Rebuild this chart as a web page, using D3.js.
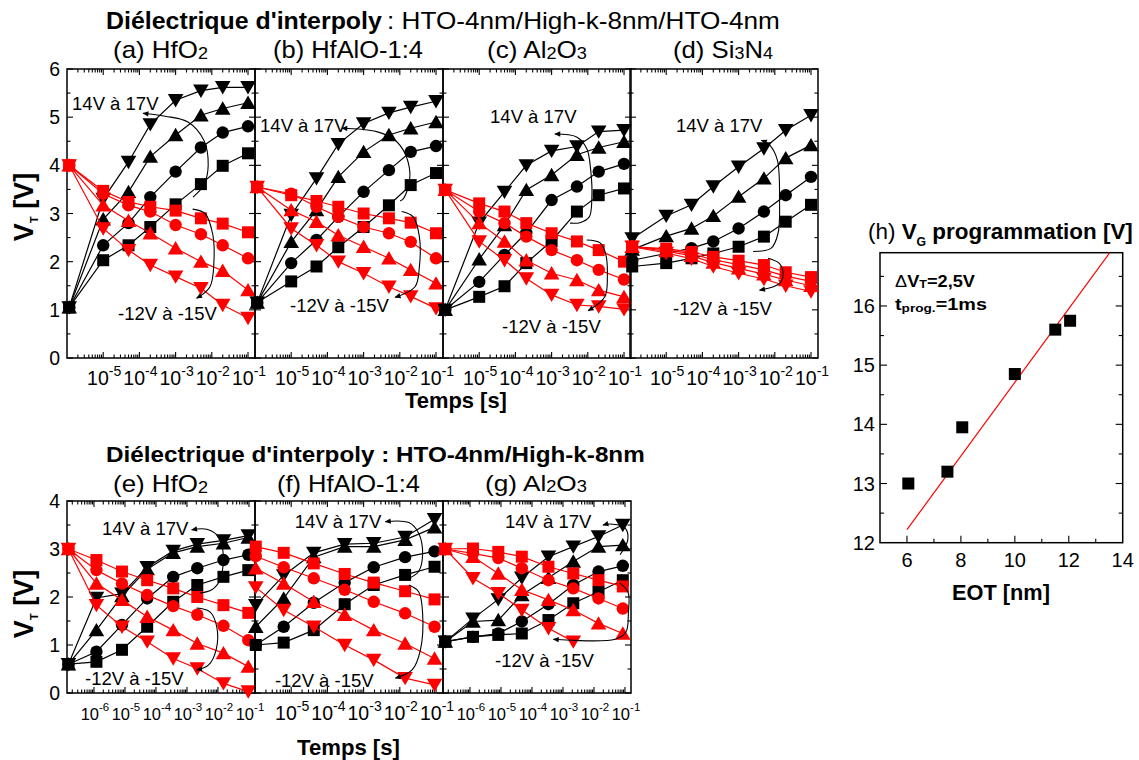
<!DOCTYPE html>
<html><head><meta charset="utf-8">
<script src="https://cdn.jsdelivr.net/npm/d3@7"></script>
<style>
body{margin:0;background:#fff}
svg{display:block}
text{font-family:"Liberation Sans",Arial,sans-serif;fill:#000}
</style>
</head><body>
<svg id="chart" width="1139" height="760"></svg>
<script>
// ---------------- DATA ----------------
const timeTop = [1.15e-6, 1e-5, 5e-5, 2e-4, 1e-3, 5e-3, 2e-2, 1e-1];
const timeE   = [1.5e-7, 1.2e-6, 8e-6, 5.2e-5, 3.6e-4, 2.15e-3, 1.5e-2, 9.5e-2];
const timeF   = [1.05e-6, 6.2e-6, 4.2e-5, 3.0e-4, 1.9e-3, 1.4e-2, 9.1e-2];
const timeG   = [1.6e-7, 1.25e-6, 8.2e-6, 4.7e-5, 3.4e-4, 2.15e-3, 1.4e-2, 8.5e-2];

const progLabels  = ["14V","15V","16V","17V"];
const eraseLabels = ["-12V","-13V","-14V","-15V"];
const shapes = ["square","circle","up","down"];

// (a) HfO2 – HTO/High-k/HTO
const a_p14=[1.05,2.03,2.34,2.72,3.19,3.61,3.99,4.25];
const a_p15=[1.05,2.34,2.80,3.34,3.87,4.37,4.68,4.81];
const a_p16=[1.05,2.88,3.45,4.18,4.63,5.04,5.18,5.30];
const a_p17=[1.05,3.30,4.07,4.85,5.35,5.55,5.62,5.62];
const a_e12=[4.0,3.47,3.24,3.14,3.06,2.90,2.79,2.61];
const a_e13=[4.0,3.41,3.17,3.04,2.76,2.57,2.34,2.07];
const a_e14=[4.0,3.17,2.85,2.59,2.28,2.00,1.81,1.41];
const a_e15=[4.0,2.69,2.24,1.93,1.69,1.45,1.10,0.83];
// (b) HfAlO-1:4
const b_p14=[1.15,1.59,1.90,2.30,2.72,3.17,3.59,3.84];
const b_p15=[1.15,1.97,2.45,2.93,3.45,3.90,4.28,4.40];
const b_p16=[1.15,2.41,3.07,3.76,4.28,4.63,4.77,4.90];
const b_p17=[1.15,2.97,3.73,4.44,4.87,5.09,5.21,5.33];
const b_e12=[3.55,3.38,3.26,3.14,3.00,2.90,2.81,2.59];
const b_e13=[3.55,3.41,3.14,2.93,2.72,2.59,2.41,2.07];
const b_e14=[3.55,3.07,2.83,2.55,2.31,2.07,1.83,1.55];
const b_e15=[3.55,2.69,2.34,2.00,1.76,1.48,1.28,1.03];
// (c) Al2O3
const c_p14=[1.0,1.27,1.49,1.97,2.43,3.04,3.38,3.52];
const c_p15=[1.0,1.58,2.14,2.60,3.28,3.56,3.87,4.03];
const c_p16=[1.0,2.05,2.76,3.49,3.80,4.22,4.37,4.49];
const c_p17=[1.0,2.81,3.45,4.00,4.30,4.39,4.70,4.73];
const c_e12=[3.49,3.21,3.04,2.80,2.59,2.42,2.24,2.00];
const c_e13=[3.49,3.04,2.80,2.52,2.24,2.03,1.83,1.63];
const c_e14=[3.49,2.80,2.42,2.03,1.76,1.62,1.41,1.27];
const c_e15=[3.49,2.42,2.03,1.65,1.31,1.10,1.07,1.01];
// (d) Si3N4
const d_p14=[1.90,1.97,2.07,2.17,2.31,2.52,2.83,3.18];
const d_p15=[2.03,2.17,2.28,2.42,2.69,3.04,3.38,3.76];
const d_p16=[2.25,2.53,2.69,2.95,3.35,3.73,4.15,4.42];
const d_p17=[2.48,2.95,3.18,3.56,3.97,4.35,4.73,5.04];
const d_e12=[2.31,2.27,2.20,2.10,2.02,1.93,1.78,1.68];
const d_e13=[2.31,2.25,2.16,2.04,1.94,1.83,1.70,1.59];
const d_e14=[2.31,2.22,2.12,1.98,1.86,1.74,1.62,1.50];
const d_e15=[2.31,2.18,2.06,1.90,1.76,1.64,1.50,1.38];
// (e) HfO2 – HTO/High-k
const e_p14=[0.60,0.65,0.90,1.38,1.90,2.25,2.42,2.56];
const e_p15=[0.60,0.86,1.42,1.97,2.42,2.60,2.77,2.88];
const e_p16=[0.60,1.31,2.02,2.58,2.92,3.05,3.12,3.24];
const e_p17=[0.60,1.98,2.07,2.62,2.96,3.10,3.18,3.28];
const e_e12=[3.0,2.77,2.53,2.35,2.18,2.00,1.83,1.67];
const e_e13=[3.0,2.56,2.28,2.04,1.81,1.63,1.40,1.10];
const e_e14=[3.0,2.28,1.94,1.59,1.31,1.03,0.83,0.55];
const e_e15=[3.0,1.83,1.38,1.07,0.72,0.51,0.20,0.03];
// (f) HfAlO-1:4
const f_p14=[1.0,1.05,1.31,1.85,2.25,2.46,2.63];
const f_p15=[1.0,1.38,1.88,2.30,2.62,2.83,2.95];
const f_p16=[1.38,1.97,2.83,3.05,3.05,3.19,3.45];
const f_p17=[1.83,2.45,2.92,3.10,3.12,3.25,3.62];
const f_e12=[3.05,2.92,2.70,2.48,2.30,2.12,1.95];
const f_e13=[2.85,2.62,2.39,2.15,1.90,1.66,1.38];
const f_e14=[2.60,2.28,1.90,1.63,1.31,1.03,0.72];
const f_e15=[2.20,1.73,1.38,1.00,0.69,0.31,0.17];
// (g) Al2O3
const g_p14=[1.07,1.17,1.21,1.24,1.52,1.87,2.11,2.35];
const g_p15=[1.07,1.17,1.24,1.49,1.85,2.25,2.53,2.65];
const g_p16=[1.07,1.49,1.52,2.04,2.40,2.74,3.05,3.08];
const g_p17=[1.07,1.55,1.95,2.40,2.84,3.05,3.26,3.50];
const g_e12=[3.0,3.01,2.94,2.84,2.63,2.49,2.35,2.22];
const g_e13=[3.0,2.91,2.81,2.60,2.35,2.18,1.97,1.76];
const g_e14=[3.0,2.84,2.49,2.15,1.94,1.73,1.45,1.24];
const g_e15=[3.0,2.39,2.08,1.73,1.35,1.07];

// (h) V_G programmation vs EOT
const eotValues=[6.05,7.5,8.05,10.0,11.5,12.05];
const vgValues =[13.0,13.2,13.95,14.85,15.6,15.75];
const fitEOT=[6.0,13.52];
const fitVG =[12.22,16.9];

// tick labels
const yTicksTop=[0,1,2,3,4,5,6];
const yTicksBot=[0,1,2,3,4];
const decTop=[-5,-4,-3,-2,-1];
const decBotEG=[-6,-5,-4,-3,-2,-1];
const xTicksH=[6,8,10,12,14];
const yTicksH=[12,13,14,15,16];

// annotation curves: [log10(t), V]
const annA_prog=[[-2.52,3.34],[-2.22,3.59],[-2.10,4.00],[-2.22,4.52],[-2.66,4.90],[-3.29,5.02],[-3.90,5.08]];
const annA_erase=[[-2.53,3.09],[-2.19,3.00],[-1.98,2.59],[-1.94,2.03],[-2.05,1.48],[-2.42,1.24]];
const annB_prog=[[-1.99,3.26],[-1.90,3.31],[-1.77,3.55],[-1.72,3.83],[-1.86,4.25],[-2.13,4.52],[-2.64,4.70],[-3.60,4.77]];
const annB_erase=[[-1.95,3.04],[-1.63,2.93],[-1.46,2.52],[-1.46,1.89],[-1.58,1.48],[-2.13,1.26]];
const annC_prog=[[-2.49,2.80],[-2.22,2.81],[-1.96,2.93],[-1.89,3.28],[-1.92,3.90],[-2.03,4.35],[-2.31,4.59],[-2.91,4.65]];
const annC_erase=[[-2.03,2.45],[-1.66,2.39],[-1.51,2.17],[-1.46,1.69],[-1.53,1.27],[-1.99,0.98]];
const annD_prog=[[-2.60,2.21],[-2.10,2.28],[-1.91,2.59],[-1.87,3.28],[-1.93,4.11],[-2.14,4.42],[-2.37,4.52]];
const annD_erase=[[-2.19,2.07],[-1.87,1.96],[-1.77,1.76],[-1.87,1.55],[-2.42,1.41]];
const annE_prog=[[-2.58,2.08],[-2.20,2.15],[-1.94,2.35],[-1.83,2.77],[-1.94,3.22],[-2.36,3.41],[-2.85,3.40]];
const annE_erase=[[-2.69,1.77],[-2.26,1.69],[-2.04,1.38],[-2.06,0.90],[-2.31,0.58],[-2.69,0.48]];
const annF_prog=[[-1.75,2.39],[-1.48,2.53],[-1.37,2.91],[-1.48,3.33],[-1.75,3.55],[-2.40,3.57]];
const annF_erase=[[-1.75,2.25],[-1.48,2.11],[-1.37,1.66],[-1.43,0.90],[-1.66,0.48],[-2.12,0.31]];
const annG_prog=[[-1.16,2.88],[-0.91,3.19],[-1.00,3.44],[-1.48,3.52],[-1.71,3.50]];
const annG_erase=[[-1.16,2.29],[-0.90,2.10],[-0.89,1.67],[-0.97,1.27],[-1.32,1.12],[-3.31,1.12]];
// annotation text anchors [log10(t), V]
const annTexts={
 a:[[-5.86,5.145],[-4.59,0.79]], b:[[-5.86,4.695],[-5.03,0.96]],
 c:[[-4.70,4.87],[-4.37,0.52]], d:[[-4.73,4.695],[-4.81,0.89]],
 e:[[-5.74,3.29],[-6.29,0.17]], f:[[-4.90,3.43],[-5.45,0.13]],
 g:[[-4.87,3.43],[-5.19,0.55]]
};

// ---------------- DRAWING ----------------
const svg=d3.select("#chart");
svg.append("rect").attr("width",1139).attr("height",760).attr("fill","#fff");
svg.append("defs").append("marker").attr("id","arr")
  .attr("viewBox","0 0 10 10").attr("refX",9).attr("refY",5)
  .attr("markerWidth",7).attr("markerHeight",6).attr("markerUnits","userSpaceOnUse")
  .attr("orient","auto").append("path").attr("d","M0,0.5L10,5L0,9.5Z").attr("fill","#000");

const SHAPE_PATH={
  square:"M-6,-6H6V6H-6Z",
  circle:d3.symbol(d3.symbolCircle,121)(),
  up:"M0,-7.2L7.8,6.2L-7.8,6.2Z",
  down:"M0,7.2L7.8,-6.2L-7.8,-6.2Z"
};

const yTop=d3.scaleLinear().domain([0,6]).range([358,69]);
const yBot=d3.scaleLinear().domain([0,4]).range([693,501]);
const PW=188;
const domTop=[1e-6,Math.pow(10,-0.807)];
const domEG=[Math.pow(10,-6.87),Math.pow(10,-0.806)];

const panels=[
 {id:"a",x0:67,y:yTop,ymax:6,dom:domTop,times:timeTop,prog:[a_p14,a_p15,a_p16,a_p17],erase:[a_e12,a_e13,a_e14,a_e15],dec:decTop,ylab:yTicksTop,ann:[annA_prog,annA_erase]},
 {id:"b",x0:255,y:yTop,ymax:6,dom:domTop,times:timeTop,prog:[b_p14,b_p15,b_p16,b_p17],erase:[b_e12,b_e13,b_e14,b_e15],dec:decTop,ann:[annB_prog,annB_erase]},
 {id:"c",x0:443,y:yTop,ymax:6,dom:domTop,times:timeTop,prog:[c_p14,c_p15,c_p16,c_p17],erase:[c_e12,c_e13,c_e14,c_e15],dec:decTop,ann:[annC_prog,annC_erase]},
 {id:"d",x0:630,y:yTop,ymax:6,dom:domTop,times:timeTop,prog:[d_p14,d_p15,d_p16,d_p17],erase:[d_e12,d_e13,d_e14,d_e15],dec:decTop,ann:[annD_prog,annD_erase]},
 {id:"e",x0:67,y:yBot,ymax:4,dom:domEG,times:timeE,prog:[e_p14,e_p15,e_p16,e_p17],erase:[e_e12,e_e13,e_e14,e_e15],dec:decBotEG,ylab:yTicksBot,ann:[annE_prog,annE_erase],small:true},
 {id:"f",x0:255,y:yBot,ymax:4,dom:domTop,times:timeF,prog:[f_p14,f_p15,f_p16,f_p17],erase:[f_e12,f_e13,f_e14,f_e15],dec:decTop,ann:[annF_prog,annF_erase]},
 {id:"g",x0:443,y:yBot,ymax:4,dom:domEG,times:timeG,prog:[g_p14,g_p15,g_p16,g_p17],erase:[g_e12,g_e13,g_e14,g_e15],dec:decBotEG,ann:[annG_prog,annG_erase],small:true}
];

function tick(g,x1,y1,x2,y2){g.append("line").attr("x1",x1).attr("y1",y1).attr("x2",x2).attr("y2",y2).attr("stroke","#000").attr("stroke-width",1.1);}

function drawPanel(p){
  const g=svg.append("g");
  const x=d3.scaleLog().domain(p.dom).range([p.x0,p.x0+PW]);
  const y=p.y;
  const X0=p.x0,X1=p.x0+PW,Y0=y(0),Y1=y(p.ymax);
  for(let v=0;v<=p.ymax;v+=0.5){
    const L=Number.isInteger(v)?6:3.5, yy=y(v);
    tick(g,X0,yy,X0+L,yy); tick(g,X1,yy,X1-L,yy);
  }
  const e0=Math.floor(Math.log10(p.dom[0])), e1=Math.ceil(Math.log10(p.dom[1]));
  for(let e=e0;e<=e1;e++) for(let k=1;k<=9;k++){
    const t=k*Math.pow(10,e);
    if(t<=p.dom[0]*1.001||t>=p.dom[1]*0.999) continue;
    const L=k===1?6:3.5, xx=x(t);
    tick(g,xx,Y0,xx,Y0-L); tick(g,xx,Y1,xx,Y1+L);
  }
  g.append("rect").attr("x",X0).attr("y",Y1).attr("width",PW).attr("height",Y0-Y1)
    .attr("fill","none").attr("stroke","#000").attr("stroke-width",1.5);
  const fs=p.small?16.5:19.5, fsup=p.small?11.5:14;
  p.dec.forEach(d=>{
    const t=g.append("text").attr("x",x(Math.pow(10,d))+1).attr("y",Y0+27).attr("text-anchor","middle").style("font-size",fs+"px");
    t.append("tspan").text("10");
    t.append("tspan").attr("dy",-9).style("font-size",fsup+"px").text(String(d));
  });
  if(p.ylab) p.ylab.forEach(v=>{
    g.append("text").attr("x",X0-7).attr("y",y(v)+7).attr("text-anchor","end").style("font-size","19.5px").text(v);
  });
  const line=d3.line().x(d=>x(d[0])).y(d=>y(d[1]));
  const groups=[{arr:p.prog,color:"#000",labels:progLabels},{arr:p.erase,color:"#ff0000",labels:eraseLabels}];
  groups.forEach(G=>{
    G.arr.forEach(vals=>{
      const pts=vals.map((v,i)=>[p.times[i],v]);
      g.append("path").attr("d",line(pts)).attr("fill","none").attr("stroke",G.color).attr("stroke-width",1.2);
    });
    G.arr.forEach((vals,si)=>{
      vals.forEach((v,i)=>{
        g.append("path").attr("d",SHAPE_PATH[shapes[si]])
          .attr("transform",`translate(${x(p.times[i])},${y(v)})`).attr("fill",G.color);
      });
    });
  });
  const aline=d3.line().curve(d3.curveCatmullRom.alpha(0.5)).x(d=>x(Math.pow(10,d[0]))).y(d=>y(d[1]));
  p.ann.forEach(a=>{
    g.append("path").attr("d",aline(a)).attr("fill","none").attr("stroke","#000").attr("stroke-width",1.1).attr("marker-end","url(#arr)");
  });
  const at=annTexts[p.id];
  g.append("text").attr("x",x(Math.pow(10,at[0][0]))).attr("y",y(at[0][1])).style("font-size","18.5px").text("14V à 17V");
  g.append("text").attr("x",x(Math.pow(10,at[1][0]))).attr("y",y(at[1][1])).style("font-size","18.5px").text("-12V à -15V");
}
panels.forEach(drawPanel);

function richText(x,y,w,parts,base,weight){
  const t=svg.append("text").attr("x",0).attr("y",0).style("font-size",base+"px").style("font-weight",weight||"normal");
  parts.forEach(pt=>{
    const s=t.append("tspan").text(pt.t);
    if(pt.size) s.style("font-size",pt.size+"px");
    if(pt.dy) s.attr("dy",pt.dy);
    if(pt.w) s.style("font-weight",pt.w);
  });
  const bw=t.node().getComputedTextLength();
  const sx=w?w/bw:1;
  t.attr("transform",`translate(${x},${y}) scale(${sx},1)`);
  return t;
}
richText(106,29,276,[{t:"Diélectrique d'interpoly"}],23,"bold");
richText(387,29,393,[{t:": HTO-4nm/High-k-8nm/HTO-4nm"}],23,"normal");
richText(106,462,539,[{t:"Diélectrique d'interpoly : HTO-4nm/High-k-8nm"}],23,"bold");

const subs=[
 [113,58,95,[{t:"(a) HfO"},{t:"2",size:16,dy:1}]],
 [273,58,150,[{t:"(b) HfAlO-1:4"}]],
 [487,58,100,[{t:"(c) Al"},{t:"2",size:16,dy:1},{t:"O",dy:-1},{t:"3",size:16,dy:1}]],
 [673,58,100,[{t:"(d) Si"},{t:"3",size:16,dy:1},{t:"N",dy:-1},{t:"4",size:16,dy:1}]],
 [113,492,95,[{t:"(e) HfO"},{t:"2",size:16,dy:1}]],
 [277,492,143,[{t:"(f) HfAlO-1:4"}]],
 [485,491,102,[{t:"(g) Al"},{t:"2",size:16,dy:1},{t:"O",dy:-1},{t:"3",size:16,dy:1}]]
];
subs.forEach(s=>richText(s[0],s[1],s[2],s[3],23,"normal"));

richText(405,408,102,[{t:"Temps [s]"}],22,"bold");
richText(297,755,103,[{t:"Temps [s]"}],22,"bold");

function yLabel(cx,cy){
  const t=svg.append("text").attr("transform",`translate(${cx},${cy}) rotate(-90)`).attr("text-anchor","middle")
    .style("font-size","27px").style("font-weight","bold");
  t.append("tspan").text("V");
  t.append("tspan").attr("dy",5).style("font-size","11px").text("T");
  t.append("tspan").attr("dy",-5).text(" [V]");
}
yLabel(33,207);
yLabel(33,604);

// ---------------- (h) ----------------
const xH=d3.scaleLinear().domain([5,14]).range([880,1122.7]);
const yH=d3.scaleLinear().domain([12,16.9]).range([542.7,252.7]);
const gh=svg.append("g");
for(let v=6;v<=13;v++){const L=v%2===0?7:4;tick(gh,xH(v),yH(12),xH(v),yH(12)-L);}
for(let v=12.5;v<=16.5;v+=0.5){const L=Number.isInteger(v)?7:4;tick(gh,xH(5),yH(v),xH(5)+L,yH(v));tick(gh,xH(14),yH(v),xH(14)-L,yH(v));}
gh.append("rect").attr("x",xH(5)).attr("y",yH(16.9)).attr("width",xH(14)-xH(5)).attr("height",yH(12)-yH(16.9))
  .attr("fill","none").attr("stroke","#000").attr("stroke-width",1.5);
xTicksH.forEach(v=>gh.append("text").attr("x",xH(v)).attr("y",567).attr("text-anchor","middle").style("font-size","20px").text(v));
yTicksH.forEach(v=>gh.append("text").attr("x",875).attr("y",yH(v)+7).attr("text-anchor","end").style("font-size","20px").text(v));
gh.append("line").attr("x1",xH(fitEOT[0])).attr("y1",yH(fitVG[0])).attr("x2",xH(fitEOT[1])).attr("y2",yH(fitVG[1]))
  .attr("stroke","#ff0000").attr("stroke-width",1.2);
eotValues.forEach((e,i)=>gh.append("rect").attr("x",xH(e)-6).attr("y",yH(vgValues[i])-6).attr("width",12).attr("height",12).attr("fill","#000"));
richText(868,239,265,[{t:"(h) ",w:"normal"},{t:"V"},{t:"G",size:12,dy:7},{t:" programmation [V]",dy:-7}],22,"bold");
richText(895,287,80,[{t:"Δ",w:"normal"},{t:"V"},{t:"T",size:11,dy:1},{t:"=2,5V",dy:-1}],16,"bold");
richText(895,310,92,[{t:"t"},{t:"prog.",size:11,dy:2},{t:"=1ms",dy:-2}],16,"bold");
richText(952,600,98,[{t:"EOT [nm]"}],22,"bold");
</script>
</body></html>
